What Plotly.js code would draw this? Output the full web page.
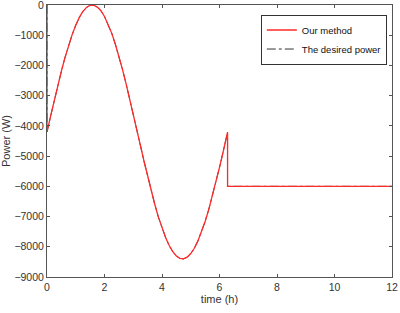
<html lang="en">
  <head>
    <meta charset="UTF-8" />
    <script src="https://cdn.plot.ly/plotly-3.0.1.min.js"></script>
    <title>Power</title>
    <style>
      body { margin: 0; background: #fff; }
    </style>
  </head>
  <body>
    <div id="power-plot" style="width: 400px; height: 313px"></div>
    <script>
      // time (h) and power (W)
      const timeH = [
        0, 0, 0.125, 0.25, 0.375, 0.5, 0.625, 0.75, 0.875, 1.0, 1.125, 1.25,
        1.375, 1.5, 1.625, 1.75, 1.875, 2.0, 2.125, 2.25, 2.375, 2.5, 2.625,
        2.75, 2.875, 3.0, 3.125, 3.25, 3.375, 3.5, 3.625, 3.75, 3.875, 4.0,
        4.125, 4.25, 4.375, 4.5, 4.625, 4.75, 4.875, 5.0, 5.125, 5.25, 5.375,
        5.5, 5.625, 5.75, 5.875, 6.0, 6.125, 6.25, 6.28, 6.28, 12,
      ];
      const ourMethod = [
        0, -4200, -3680, -3160, -2660, -2190, -1740, -1340, -980, -670, -410,
        -210, -80, -10, -5, -70, -190, -380, -630, -930, -1290, -1690, -2130,
        -2600, -3090, -3610, -4130, -4650, -5170, -5670, -6150, -6600, -7020,
        -7380, -7690, -7960, -8160, -8305, -8385, -8400, -8345, -8225, -8050,
        -7805, -7510, -7165, -6770, -6335, -5875, -5375, -4865, -4340, -4210,
        -6000, -6000,
      ];
      const desiredPower = ourMethod.slice();
      const yTicks = [0, -1000, -2000, -3000, -4000, -5000, -6000, -7000, -8000, -9000];
      const xTicks = [0, 2, 4, 6, 8, 10, 12];

      const axisColor = "#555";

      Plotly.newPlot(
        "power-plot",
        [
          {
            x: timeH,
            y: desiredPower,
            type: "scatter",
            mode: "lines",
            name: "The desired power",
            line: { color: "black", width: 0.8, dash: "dashdot" },
          },
          {
            x: timeH,
            y: ourMethod,
            type: "scatter",
            mode: "lines",
            name: "Our method",
            line: { color: "#ff2a2a", width: 1.3 },
          },
        ],
        {
          width: 400,
          height: 313,
          margin: { l: 47, r: 8, t: 5, b: 36 },
          font: { family: "Liberation Sans, Arial", size: 10.5, color: "#333" },
          showlegend: true,
          legend: {
            x: 0.985,
            y: 0.965,
            xanchor: "right",
            yanchor: "top",
            traceorder: "reversed",
            bordercolor: "#333",
            borderwidth: 1,
            bgcolor: "white",
            itemwidth: 30,
            font: { size: 9.5, color: "#111" },
          },
          xaxis: {
            range: [0, 12],
            tickvals: xTicks,
            ticks: "inside",
            ticklen: 3,
            tickcolor: axisColor,
            showline: true,
            linecolor: axisColor,
            mirror: "allticks",
            showgrid: false,
            zeroline: false,
            ticklabeloverflow: "allow",
            title: { text: "time (h)", standoff: 3, font: { size: 11 } },
          },
          yaxis: {
            range: [-9000, 0],
            tickvals: yTicks,
            ticks: "inside",
            ticklen: 3,
            tickcolor: axisColor,
            showline: true,
            linecolor: axisColor,
            mirror: "allticks",
            showgrid: false,
            zeroline: false,
            ticklabeloverflow: "allow",
            title: { text: "Power (W)", standoff: 3, font: { size: 11 } },
          },
          plot_bgcolor: "white",
          paper_bgcolor: "white",
        },
        { displayModeBar: false, staticPlot: true }
      );
    </script>
  </body>
</html>
